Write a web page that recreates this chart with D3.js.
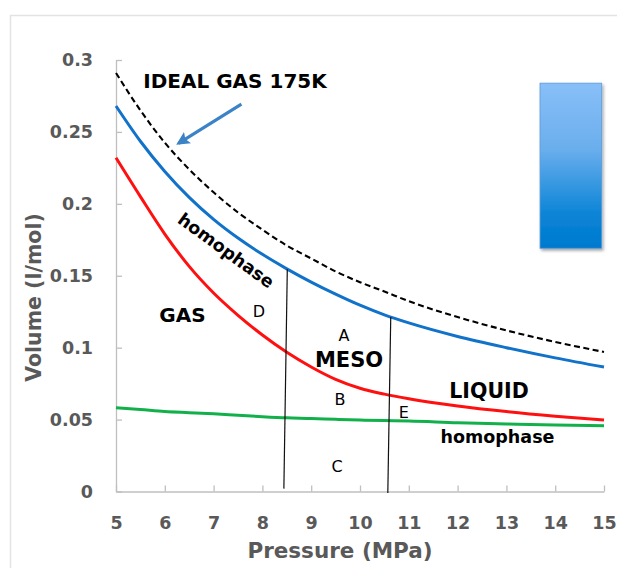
<!DOCTYPE html>
<html><head><meta charset="utf-8">
<script src="https://cdn.jsdelivr.net/npm/d3@7"></script>
<style>html,body{margin:0;padding:0;background:#fff;}svg{display:block;}</style>
</head><body>
<script>
// ---- data ----
const pressure = [5, 5.5, 6, 6.5, 7, 7.5, 8, 8.5, 9, 9.5, 10, 10.5, 11, 12, 13, 14, 15];
const idealGas = [0.291, 0.265, 0.2425, 0.224, 0.208, 0.194, 0.182, 0.171, 0.162, 0.153, 0.1455, 0.139, 0.1323, 0.1213, 0.112, 0.104, 0.097];
const blueHomophase = [0.268, 0.2435, 0.2225, 0.2045, 0.1892, 0.1762, 0.1649, 0.1548, 0.1456, 0.1372, 0.1295, 0.1228, 0.1172, 0.1078, 0.1, 0.0929, 0.0865];
const redBoundary = [0.232, 0.205, 0.179, 0.1565, 0.138, 0.1225, 0.1088, 0.0968, 0.0866, 0.078, 0.0718, 0.0677, 0.0645, 0.0595, 0.0556, 0.0524, 0.0497];
const greenHomophase = [0.0583, 0.057, 0.0556, 0.0548, 0.054, 0.053, 0.052, 0.0512, 0.0508, 0.0502, 0.0497, 0.0493, 0.049, 0.0478, 0.047, 0.0462, 0.0457];
const xTicks = [5, 6, 7, 8, 9, 10, 11, 12, 13, 14, 15];
const yTicks = [0, 0.05, 0.1, 0.15, 0.2, 0.25, 0.3];
const yTickLabels = ["0", "0.05", "0.1", "0.15", "0.2", "0.25", "0.3"];
const dividers = [
  {p1: 8.51, v1: 0.1546, p2: 8.44, v2: 0.002},
  {p1: 10.63, v1: 0.1214, p2: 10.57, v2: -0.001}
];
const labels = [
  {t: "IDEAL GAS 175K", p: 5.56, v: 0.2804, bold: true, size: 20, anchor: "start"},
  {t: "GAS", p: 6.363, v: 0.1181, bold: true, size: 20, anchor: "middle"},
  {t: "D", p: 7.93, v: 0.1216, bold: false, size: 16, anchor: "middle"},
  {t: "A", p: 9.672, v: 0.1047, bold: false, size: 16, anchor: "middle"},
  {t: "MESO", p: 9.775, v: 0.0868, bold: true, size: 21, anchor: "middle"},
  {t: "B", p: 9.59, v: 0.0602, bold: false, size: 16, anchor: "middle"},
  {t: "E", p: 10.90, v: 0.0509, bold: false, size: 16, anchor: "middle"},
  {t: "C", p: 9.529, v: 0.01377, bold: false, size: 16, anchor: "middle"},
  {t: "LIQUID", p: 12.643, v: 0.0648, bold: true, size: 20.5, anchor: "middle"},
  {t: "homophase", p: 12.818, v: 0.0337, bold: true, size: 17.5, anchor: "middle"}
];
const rotatedLabel = {t: "homophase", p: 7.254, v: 0.1675, angle: 36, size: 17.5};
const arrow = {p1: 7.57, v1: 0.2693, p2: 6.28, v2: 0.2421};
const box = {p1: 13.689, v1: 0.2839, p2: 14.953, v2: 0.1691};

// ---- layout ----
const W = 617, H = 568;
const mLeft = 116, mRight = 604, mTop = 60, mBottom = 491.5;
const x = d3.scaleLinear().domain([5, 15]).range([mLeft, mRight]);
const y = d3.scaleLinear().domain([0, 0.3]).range([mBottom, mTop]);
const font = "'DejaVu Sans', sans-serif";
const axisGray = "#595959";

const svg = d3.select("body").append("svg").attr("width", W).attr("height", H);
const defs = svg.append("defs");
const grad = defs.append("linearGradient").attr("id", "boxGrad").attr("x1", 0).attr("y1", 0).attr("x2", 0).attr("y2", 1);
grad.append("stop").attr("offset", "0%").attr("stop-color", "#88bff8");
grad.append("stop").attr("offset", "40%").attr("stop-color", "#6aaeed");
grad.append("stop").attr("offset", "80%").attr("stop-color", "#0a84d6");
grad.append("stop").attr("offset", "100%").attr("stop-color", "#0079cf");
const shadow = defs.append("filter").attr("id", "shadow").attr("x", "-20%").attr("y", "-20%").attr("width", "150%").attr("height", "150%");
shadow.append("feDropShadow").attr("dx", 1.5).attr("dy", 2).attr("stdDeviation", 1.5).attr("flood-color", "#000").attr("flood-opacity", 0.35);
defs.append("marker").attr("id", "ah").attr("viewBox", "0 0 10 10").attr("refX", 8).attr("refY", 5)
  .attr("markerWidth", 4.2).attr("markerHeight", 4.2).attr("orient", "auto")
  .append("path").attr("d", "M0,0 L10,5 L0,10 L2,5 z").attr("fill", "#3c83c5");

// frame
svg.append("rect").attr("x", 10.5).attr("y", 15.5).attr("width", 700).attr("height", 700)
  .attr("fill", "none").attr("stroke", "#e3e3e3").attr("stroke-width", 1.5);

// axes
const xAxis = d3.axisBottom(x).tickValues(xTicks).tickSizeInner(-6).tickSizeOuter(0).tickPadding(25).tickFormat(d3.format("d"));
const gx = svg.append("g").attr("transform", `translate(0,${mBottom})`).call(xAxis);
const yAxis = d3.axisLeft(y).tickValues(yTicks).tickSizeInner(-6).tickSizeOuter(0).tickPadding(23).tickFormat((d, i) => yTickLabels[i]);
const gy = svg.append("g").attr("transform", `translate(${mLeft},0)`).call(yAxis);
[gx, gy].forEach(g => {
  g.select(".domain").attr("stroke", "#bfbfbf").attr("stroke-width", 1.3);
  g.selectAll(".tick line").attr("stroke", "#bfbfbf").attr("stroke-width", 1.3);
  g.selectAll(".tick text").attr("fill", axisGray).attr("font-family", font).attr("font-weight", "bold").attr("font-size", 17.5);
});

// axis titles
svg.append("text").attr("x", (mLeft + mRight) / 2 - 20).attr("y", 558).attr("text-anchor", "middle")
  .attr("font-family", font).attr("font-weight", "bold").attr("font-size", 21.5).attr("fill", axisGray).text("Pressure (MPa)");
svg.append("text").attr("transform", "translate(41,297.5) rotate(-90)").attr("text-anchor", "middle")
  .attr("font-family", font).attr("font-weight", "bold").attr("font-size", 20.5).attr("fill", axisGray).text("Volume (l/mol)");

// curves
const line = d3.line().x(d => x(d[0])).y(d => y(d[1])).curve(d3.curveMonotoneX);
const series = [
  {vals: greenHomophase, color: "#12b04a", w: 3, dash: null},
  {vals: redBoundary, color: "#ff1010", w: 3, dash: null},
  {vals: blueHomophase, color: "#1172c9", w: 3, dash: null},
  {vals: idealGas, color: "#000", w: 2.1, dash: "6,3.5"}
];
series.forEach(s => {
  svg.append("path").datum(pressure.map((p, i) => [p, s.vals[i]]))
    .attr("d", line).attr("fill", "none").attr("stroke", s.color).attr("stroke-width", s.w)
    .attr("stroke-dasharray", s.dash);
});

// divider lines
svg.selectAll(".divider").data(dividers).enter().append("line")
  .attr("x1", d => x(d.p1)).attr("y1", d => y(d.v1)).attr("x2", d => x(d.p2)).attr("y2", d => y(d.v2))
  .attr("stroke", "#111").attr("stroke-width", 1.2);

// labels
svg.selectAll(".lbl").data(labels).enter().append("text")
  .attr("x", d => x(d.p)).attr("y", d => y(d.v)).attr("text-anchor", d => d.anchor)
  .attr("font-family", font).attr("font-weight", d => d.bold ? "bold" : "normal")
  .attr("font-size", d => d.size).attr("fill", "#000").text(d => d.t);
svg.append("text")
  .attr("transform", `translate(${x(rotatedLabel.p)},${y(rotatedLabel.v)}) rotate(${rotatedLabel.angle})`)
  .attr("text-anchor", "middle").attr("dominant-baseline", "central")
  .attr("font-family", font).attr("font-weight", "bold").attr("font-size", rotatedLabel.size).text(rotatedLabel.t);

// arrow
svg.append("line").attr("x1", x(arrow.p1)).attr("y1", y(arrow.v1)).attr("x2", x(arrow.p2)).attr("y2", y(arrow.v2))
  .attr("stroke", "#3c83c5").attr("stroke-width", 3.2).attr("marker-end", "url(#ah)");

// gradient box
svg.append("rect").attr("x", x(box.p1)).attr("y", y(box.v1))
  .attr("width", x(box.p2) - x(box.p1)).attr("height", y(box.v2) - y(box.v1))
  .attr("fill", "url(#boxGrad)").attr("stroke", "#5a9ad6").attr("stroke-width", 0.8).attr("filter", "url(#shadow)");
</script>
</body></html>
